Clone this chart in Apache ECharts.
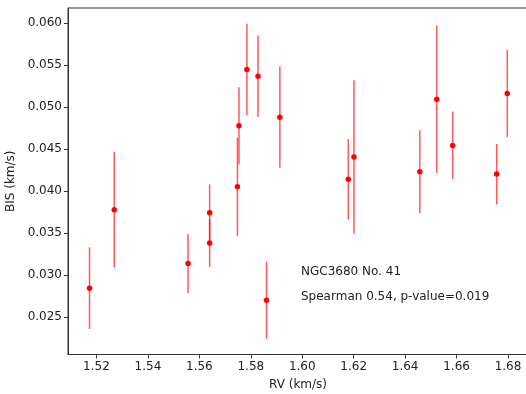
<!DOCTYPE html>
<html><head><meta charset="utf-8">
<script src="https://cdn.jsdelivr.net/npm/echarts@6/dist/echarts.min.js"></script>
<style>html,body{margin:0;padding:0;background:#fff}#c{width:526px;height:394px}</style>
</head><body><div id="c"></div>
<script>
const rv  = [1.5173, 1.5269, 1.5556, 1.5640, 1.5640, 1.5748, 1.5754, 1.5785, 1.5828, 1.5913, 1.5861, 1.6179, 1.6201, 1.6457, 1.6523, 1.6585, 1.6756, 1.6797];
const bis = [0.02842, 0.03777, 0.03135, 0.03742, 0.03381, 0.04051, 0.04778, 0.05449, 0.05369, 0.04881, 0.02699, 0.04139, 0.04405, 0.04230, 0.05095, 0.04544, 0.04202, 0.05163];
const err = [0.00487, 0.00690, 0.00353, 0.00338, 0.00286, 0.00587, 0.00460, 0.00545, 0.00486, 0.00605, 0.00460, 0.00480, 0.00915, 0.00494, 0.00881, 0.00403, 0.00360, 0.00518];
const xTicks = [1.52, 1.54, 1.56, 1.58, 1.60, 1.62, 1.64, 1.66, 1.68];
const yTicks = [0.025, 0.030, 0.035, 0.040, 0.045, 0.050, 0.055, 0.060];
const title = 'NGC3680 No. 41';
const stat = 'Spearman 0.54, p-value=0.019';

const font = 'DejaVu Sans';
const chart = echarts.init(document.getElementById('c'), null, {renderer: 'canvas'});
const pts = rv.map((x, i) => [x, bis[i], err[i]]);
chart.setOption({
  animation: false,
  grid: {left: 68, top: 8, right: -2, bottom: 39.5, show: true, borderColor: '#333', borderWidth: 1,
    backgroundColor: 'transparent', outerBoundsMode: 'none', containLabel: false},
  xAxis: {
    type: 'value', min: 1.50893, max: 1.68777,
    name: 'RV (km/s)', nameLocation: 'middle', nameGap: 24,
    nameTextStyle: {fontFamily: font, fontSize: 12, color: '#222'},
    axisLine: {show: true, lineStyle: {color: '#333', width: 1}},
    axisTick: {show: true, length: 4, customValues: xTicks, lineStyle: {color: '#333'}},
    axisLabel: {customValues: xTicks, fontFamily: font, fontSize: 12, color: '#222', margin: 6,
      formatter: v => v.toFixed(2)},
    splitLine: {show: false}
  },
  yAxis: {
    type: 'value', min: 0.02051, max: 0.06182,
    name: 'BIS (km/s)', nameLocation: 'middle', nameGap: 44, nameRotate: 90,
    nameTextStyle: {fontFamily: font, fontSize: 12, color: '#222'},
    axisLine: {show: true, lineStyle: {color: '#333', width: 1}},
    axisTick: {show: true, length: 4, customValues: yTicks, lineStyle: {color: '#333'}},
    axisLabel: {customValues: yTicks, fontFamily: font, fontSize: 12, color: '#222', margin: 6,
      formatter: v => v.toFixed(3)},
    splitLine: {show: false}
  },
  series: [
    {
      type: 'custom',
      data: pts,
      renderItem: function (params, api) {
        const x = api.value(0), y = api.value(1), e = api.value(2);
        const p1 = api.coord([x, y + e]);
        const p2 = api.coord([x, y - e]);
        return {type: 'line', shape: {x1: p1[0], y1: p1[1], x2: p2[0], y2: p2[1]},
          style: {stroke: 'rgba(255,0,0,0.65)', lineWidth: 1.5}};
      },
      z: 2
    },
    {
      type: 'scatter', data: pts.map(p => [p[0], p[1]]),
      symbol: 'circle', symbolSize: 5.5,
      itemStyle: {color: '#ff0000', opacity: 1},
      z: 3
    }
  ],
  graphic: [
    {type: 'text', left: 301, top: 266, style: {text: title, fontFamily: font, fontSize: 12, fill: '#222'}},
    {type: 'text', left: 301, top: 291, style: {text: stat, fontFamily: font, fontSize: 12, fill: '#222'}}
  ]
});
</script></body></html>
